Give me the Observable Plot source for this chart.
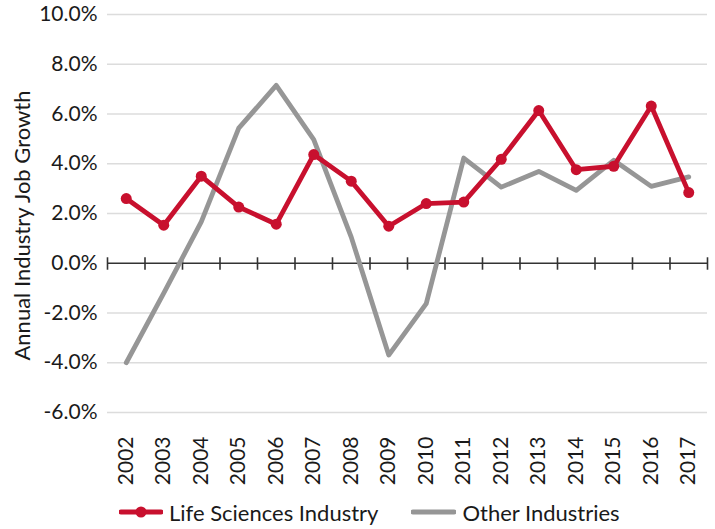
<!DOCTYPE html>
<html><head><meta charset="utf-8">
<script src="https://cdn.jsdelivr.net/npm/d3@7"></script>
<script src="https://cdn.jsdelivr.net/npm/@observablehq/plot@0.6"></script>
<style>
body{margin:0;background:#fff;font-family:Lato,"Open Sans",sans-serif;}
#legend{display:flex;align-items:center;height:34px;margin-top:0;font-size:22px;color:#1a1a1a;}
.item{display:flex;align-items:center;margin-right:33px;}
</style></head><body>
<div id="chart"></div>
<div id="legend"></div>
<script>
const years = [2002,2003,2004,2005,2006,2007,2008,2009,2010,2011,2012,2013,2014,2015,2016,2017];
const lifeSciences = [2.6,1.53,3.5,2.26,1.57,4.37,3.3,1.49,2.4,2.46,4.18,6.14,3.76,3.9,6.32,2.84];
const otherIndustries = [-4.0,-1.2,1.66,5.43,7.15,4.97,1.05,-3.69,-1.62,4.23,3.06,3.69,2.93,4.14,3.09,3.47];
const yTicks = [-6,-4,-2,0,2,4,6,8,10];
const seriesNames = ["Life Sciences Industry","Other Industries"];
const colors = ["#c8102e","#969696"];

const ls = years.map((y,i)=>({year:y, v:lifeSciences[i]}));
const oi = years.map((y,i)=>({year:y, v:otherIndustries[i]}));
const bounds = d3.range(years.length+1).map(i=>years[0]-0.5+i);

const chart = Plot.plot({
  width:715, height:495,
  marginTop:14, marginBottom:83, marginLeft:107, marginRight:8,
  style:{fontFamily:"Lato, 'Open Sans', sans-serif", fontSize:"21px", color:"#1a1a1a"},
  x:{domain:[years[0]-0.5, years[years.length-1]+0.5]},
  y:{domain:[-6,10]},
  marks:[
    Plot.ruleY(yTicks.filter(d=>d!==0),{stroke:"#dcdcdc",strokeWidth:1.6}),
    Plot.axisY(yTicks,{tickSize:0,tickPadding:10,tickFormat:d=>d.toFixed(1)+"%",label:null,fontSize:21}),
    Plot.text(["Annual Industry Job Growth"],{frameAnchor:"left",textAnchor:"middle",dx:-85,dy:12,rotate:-90,fontSize:22}),
    Plot.axisX(years,{tickSize:0,tickPadding:24,tickRotate:-90,tickFormat:d=>String(d),label:null,fontSize:21}),
    Plot.ruleY([0],{stroke:"#333",strokeWidth:1.6}),
    Plot.ruleX(bounds,{y1:0.22,y2:-0.28,stroke:"#333",strokeWidth:1.6}),
    Plot.line(oi,{x:"year",y:"v",stroke:colors[1],strokeWidth:4.8}),
    Plot.line(ls,{x:"year",y:"v",stroke:colors[0],strokeWidth:4.8}),
    Plot.dot(ls,{x:"year",y:"v",fill:colors[0],r:5.5})
  ]
});
document.getElementById("chart").appendChild(chart);

const leg = document.getElementById("legend");
leg.style.paddingLeft="119px";
seriesNames.forEach((n,i)=>{
  const it=document.createElement("div");it.className="item";
  const sw = i===0
    ? `<svg width="44" height="14"><line x1="2" y1="7" x2="42" y2="7" stroke="${colors[i]}" stroke-width="5" stroke-linecap="round"/><circle cx="22" cy="7" r="5.5" fill="${colors[i]}"/></svg>`
    : `<svg width="45" height="14"><line x1="2" y1="7" x2="43" y2="7" stroke="${colors[i]}" stroke-width="5" stroke-linecap="round"/></svg>`;
  it.innerHTML = sw + `<span style="margin-left:6px">${n}</span>`;
  leg.appendChild(it);
});
</script></body></html>
